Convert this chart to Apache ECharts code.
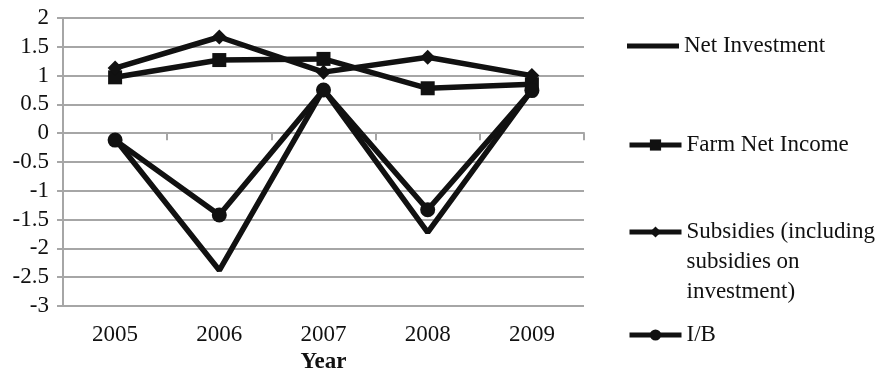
<!DOCTYPE html>
<html>
<head>
<meta charset="utf-8">
<script src="https://cdn.jsdelivr.net/npm/echarts@6/dist/echarts.min.js"></script>
<style>
  html, body { margin: 0; padding: 0; background: #fff; }
  #chart { width: 880px; height: 379px; }
</style>
</head>
<body>
<div id="chart"></div>
<script>
const years = ["2005", "2006", "2007", "2008", "2009"];
const netInvestment = [-0.1, -2.38, 0.76, -1.72, 0.75];
const farmNetIncome = [0.97, 1.27, 1.29, 0.78, 0.85];
const subsidies = [1.13, 1.67, 1.06, 1.32, 1.0];
const ib = [-0.12, -1.42, 0.75, -1.33, 0.74];

const subsidiesName = "Subsidies (including\nsubsidies on\ninvestment)";

const ink = "#111";
const gridGrey = "#a6a6a6";
const serif = "Liberation Serif";
const fs = 23;

const chart = echarts.init(document.getElementById("chart"));

// one legend per item so the uneven spacing can be matched
function legendFor(item, top, extra) {
  return Object.assign({
    data: [item],
    orient: "vertical",
    left: 627,
    top: top,
    padding: 0,
    itemWidth: 52,
    itemHeight: 14,
    lineStyle: { width: 5 },
    textStyle: { fontFamily: serif, fontSize: fs, color: ink, lineHeight: 30 },
    selectedMode: false
  }, extra || {});
}

const option = {
  animation: false,
  backgroundColor: "#fff",
  grid: { left: 63, right: 296, top: 18, bottom: 73 },
  legend: [
    legendFor({ name: "Net Investment", icon: "rect", itemStyle: { color: ink } }, 31, { itemHeight: 5 }),
    legendFor("Farm Net Income", 130),
    // two blank lines ahead so the icon sits level with the first text line
    legendFor(subsidiesName, 157, {
      formatter: function (n) { return "\n\n" + n; }
    }),
    legendFor("I/B", 320)
  ],
  xAxis: [
    {
      type: "category",
      data: years,
      position: "bottom",
      axisLine: { show: false, onZero: false },
      axisTick: { show: false },
      axisLabel: { fontFamily: serif, fontSize: fs, color: ink, margin: 17 },
      name: "Year",
      nameLocation: "middle",
      nameGap: 45,
      nameTextStyle: { fontFamily: serif, fontSize: fs, fontWeight: "bold", color: ink }
    },
    {
      type: "category",
      data: years,
      position: "bottom",
      axisLine: { show: true, onZero: true, lineStyle: { color: gridGrey, width: 2 } },
      axisTick: { show: true, length: 7, lineStyle: { color: gridGrey, width: 2 } },
      axisLabel: { show: false }
    }
  ],
  yAxis: {
    type: "value",
    min: -3,
    max: 2,
    interval: 0.5,
    axisLine: { show: true, lineStyle: { color: gridGrey, width: 2 } },
    axisTick: { show: true, length: 6, lineStyle: { color: gridGrey, width: 2 } },
    axisLabel: { fontFamily: serif, fontSize: fs, color: ink, margin: 14 },
    splitLine: { lineStyle: { color: gridGrey, width: 2 } }
  },
  series: [
    {
      name: "Net Investment",
      type: "line",
      data: netInvestment,
      symbol: "none",
      lineStyle: { color: ink, width: 5.5 },
      itemStyle: { color: ink }
    },
    {
      name: "Farm Net Income",
      type: "line",
      data: farmNetIncome,
      symbol: "rect",
      symbolSize: 14,
      lineStyle: { color: ink, width: 5.5 },
      itemStyle: { color: ink }
    },
    {
      name: subsidiesName,
      type: "line",
      data: subsidies,
      symbol: "diamond",
      symbolSize: 15,
      lineStyle: { color: ink, width: 5.5 },
      itemStyle: { color: ink }
    },
    {
      name: "I/B",
      type: "line",
      data: ib,
      symbol: "circle",
      symbolSize: 15,
      lineStyle: { color: ink, width: 5.5 },
      itemStyle: { color: ink }
    }
  ]
};

chart.setOption(option);
</script>
</body>
</html>
